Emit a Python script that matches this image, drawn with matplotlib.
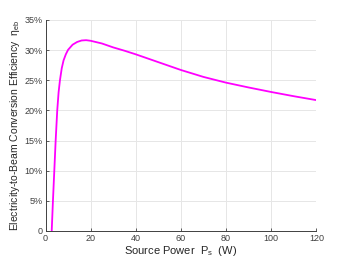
import numpy as np
import matplotlib
matplotlib.use("Agg")
import matplotlib.pyplot as plt
from matplotlib.ticker import FuncFormatter

# --------------------------------------------
# DATA
# --------------------------------------------

power_w = [2.75, 3.3, 3.9, 4.5, 5.2, 5.8, 6.4, 7.2, 8.0, 9.0, 10.0, 12.0, 14.0,
           16.0, 18.0, 20.0, 25.0, 30.0, 35.0, 40.0, 45.0, 50.0, 60.0, 70.0,
           80.0, 90.0, 100.0, 110.0, 120.0]
efficiency_pct = [0.0, 5.0, 10.0, 15.0, 20.0, 23.0, 25.0, 27.0, 28.3, 29.3, 30.05,
                  30.9, 31.35, 31.6, 31.65, 31.55, 31.1, 30.45, 29.9, 29.3, 28.65,
                  28.0, 26.7, 25.55, 24.6, 23.8, 23.05, 22.35, 21.7]

x_ticks = [0, 20, 40, 60, 80, 100, 120]
y_ticks = [0, 5, 10, 15, 20, 25, 30, 35]

# --------------------------------------------
# STYLE
# --------------------------------------------

plt.rcParams["font.family"] = ["Liberation Sans", "DejaVu Sans"]
plt.rcParams["mathtext.fontset"] = "custom"
plt.rcParams["mathtext.rm"] = "Liberation Sans"
plt.rcParams["mathtext.it"] = "Liberation Sans"

axis_gray = "#404040"

fig = plt.figure(figsize=(3.5, 2.63), dpi=100)
ax = fig.add_axes([0.13, 0.122, 0.774, 0.802])

ax.plot(power_w, efficiency_pct, color="#FF00FF", linewidth=1.3)

ax.set_xlim(0, 120)
ax.set_ylim(0, 35)
ax.set_xticks(x_ticks)
ax.set_yticks(y_ticks)
ax.yaxis.set_major_formatter(FuncFormatter(lambda v, p: "0" if v == 0 else f"{v:.0f}%"))

ax.grid(True, color="#e6e6e6", linewidth=0.7)
ax.set_axisbelow(True)

for side in ["top", "right"]:
    ax.spines[side].set_visible(False)
for side in ["left", "bottom"]:
    ax.spines[side].set_color(axis_gray)
    ax.spines[side].set_linewidth(0.7)

ax.tick_params(colors=axis_gray, labelsize=6.5, length=2.5, width=0.6,
               direction="in", pad=2)

ax.set_xlabel(r"Source Power  $\mathrm{P_s}$  (W)", fontsize=8, color="#262626", labelpad=1)
ax.set_ylabel(r"Electricity-to-Beam Conversion Efficiency  $\mathrm{\eta_{eb}}$",
              fontsize=7.5, color="#262626", labelpad=2)

fig.savefig("out.png", dpi=100)
